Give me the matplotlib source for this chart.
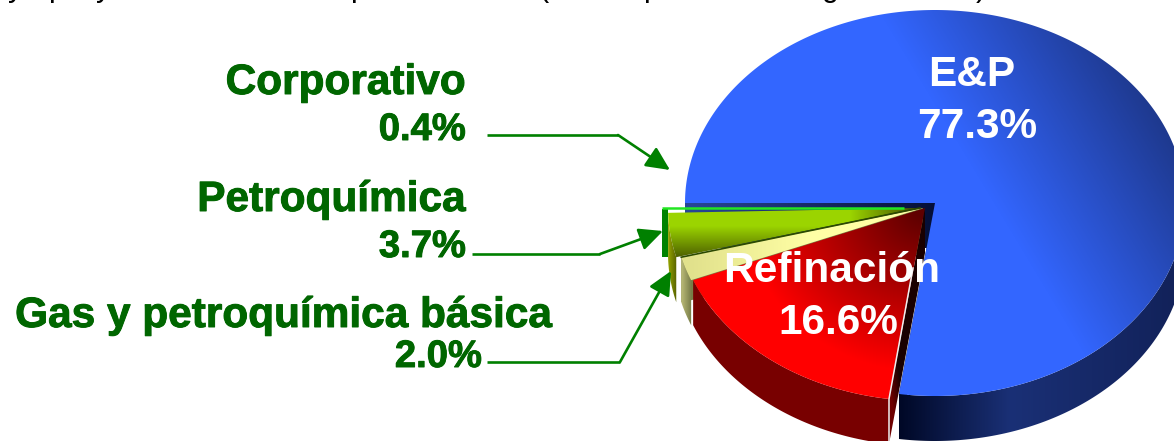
import numpy as np
from matplotlib import pyplot as plt
from matplotlib.patches import Polygon
import matplotlib.patheffects as pe

plt.rcParams['font.family'] = ['Liberation Sans', 'DejaVu Sans']

# pie data, percent
sectors = ['Corporativo', 'Petroquímica', 'Gas y petroquímica básica', 'Refinación', 'E&P']
shares = [0.4, 3.7, 2.0, 16.6, 77.3]
share_labels = ['0.4%', '3.7%', '2.0%', '16.6%', '77.3%']
# only the descenders of the line above the chart are left in the picture
cut_chars = ['y', 'p', 'y', 'p', '(', 'p', 'g', ')']

W, H = 1174, 441
RX, RY, DEPTH = 250, 193, 45
START = 180
centers = [(912, 207.5), (918, 208), (923, 208), (925, 208), (935, 203)]

fig = plt.figure(figsize=(W / 100, H / 100), dpi=100)
ax = fig.add_axes([0, 0, 1, 1])
ax.set_axis_off()

gx, gy = np.meshgrid(np.arange(W) + 0.5, np.arange(H) + 0.5)


def arc(c, a0, a1, dy=0):
    t = np.radians(np.linspace(a0, a1, max(int(abs(a1 - a0)) * 2, 8)))
    return np.column_stack([c[0] + RX * np.cos(t), c[1] - RY * np.sin(t) + dy])


def mix(c0, c1, t):
    t = np.clip(t, 0, 1)[..., None]
    return (np.array(c0) * (1 - t) + np.array(c1) * t) / 255


def fill(points, rgb, z):
    # gradient image clipped by the outline of the part
    patch = Polygon(points, closed=True, transform=ax.transData, fc='none', ec='none')
    ax.add_patch(patch)
    im = ax.imshow(rgb, extent=(0, W, H, 0), aspect='auto', zorder=z, interpolation='bilinear')
    im.set_clip_path(patch)


def top(c, a0, a1):
    return np.vstack([[c], arc(c, a0, a1)])


def side(c, a0, a1):
    return np.vstack([arc(c, a0, a1), arc(c, a1, a0, DEPTH)])


def wall(c, a):
    p = arc(c, a, a + 0.01)[0]
    return [c, p, (p[0], p[1] + DEPTH), (c[0], c[1] + DEPTH)]


edges = START + np.cumsum([0] + shares) * 3.6
corp, petro, gas, refi, ep = [(edges[i], edges[i + 1]) for i in range(5)]
cc, cp, cg, cr, ce = centers

# E&P
navy_wall = mix((40, 70, 150), (5, 15, 55), (gx - 690) / 245)
fill(wall(ce, START), navy_wall, 1)
fill(wall(ce, ep[0]), mix((5, 12, 50), (10, 25, 75), (gy - 205) / 230), 1)
blue = mix((51, 102, 255), (28, 52, 130), (gx - 950) / 240 + (130 - gy) / 400)
fill(top(ce, ep[0], ep[1]), blue, 3)
blue_side = np.where((gx < 1010)[..., None], mix((0, 8, 38), (26, 48, 118), (gx - 900) / 110),
                     mix((26, 48, 118), (18, 34, 90), (gx - 1010) / 164))
fill(side(ce, ep[0], 360), blue_side, 2)

# Corporativo
cx0 = cc[0] - RX
fill([(cx0, cc[1] + 1), (cx0 + 6, cc[1] + 1), (cx0 + 6, cc[1] + 49), (cx0, cc[1] + 49)],
     mix((0, 130, 0), (0, 130, 0), gx * 0), 6)
ax.plot([cx0, cc[0] - 8], [cc[1] + 0.8, cc[1] + 0.8], color='#22e622', lw=1.8, zorder=7, solid_capstyle='butt')

# Petroquimica
fill(side(cp, petro[0], petro[1]), mix((150, 165, 0), (85, 95, 0), (gx - 668) / 9), 5)
green = mix((155, 212, 0), (70, 85, 0),
            np.maximum((gy - 226) / 34, (gx - 850) / 65))
fill(top(cp, petro[0], petro[1]), green, 5)

# Gas
fill(side(cg, gas[0], gas[1]), mix((195, 195, 125), (115, 120, 70), (gx - 680) / 12), 5)
fill(wall(cg, gas[0]), mix((120, 125, 70), (120, 125, 70), gx * 0), 4)
beige = mix((225, 225, 140), (255, 255, 165), (gx - 690) / 120)
fill(top(cg, gas[0], gas[1]), beige, 6)
p0 = arc(cg, gas[0], gas[0] + 0.01)[0]
ax.plot([cg[0] - 3, p0[0]], [cg[1], p0[1]], color='#2c4a00', lw=1.2, zorder=7)

# Refinacion
fill(wall(cr, refi[1]), mix((110, 0, 0), (25, 0, 0), (gx - 890) / 12 - (gy - 390) / 70), 6)
fill(side(cr, refi[0], refi[1]), mix((120, 0, 0), (125, 0, 0), gx * 0), 7)
d = np.hypot(gx - cr[0], (gy - cr[1]) * 1.1)
fill(top(cr, refi[0], refi[1]), mix((95, 0, 0), (255, 0, 0), (d - 10) / 170), 8)
p1 = arc(cr, refi[1], refi[1] + 0.01)[0]
ax.plot([cr[0] - 12, p1[0], p1[0]], [cr[1] + 60, p1[1], p1[1] + DEPTH], color='#eeeeee', lw=1.1, zorder=9)

ax.set_xlim(0, W)
ax.set_ylim(H, 0)

# labels
dark_green = '#006600'
heavy = [pe.withStroke(linewidth=0.7, foreground=dark_green)]
for name, val, xr, y1, y2, xr2 in [(sectors[0], share_labels[0], 466, 94, 140, 466),
                                   (sectors[1], share_labels[1], 466, 211, 257, 466),
                                   (sectors[2], share_labels[2], 553, 327, 367, 482)]:
    ax.text(xr, y1, name, color=dark_green, fontsize=30.5, fontweight='bold', ha='right', va='baseline',
            zorder=12, path_effects=heavy)
    ax.text(xr2, y2, val, color=dark_green, fontsize=27.5, fontweight='bold', ha='right', va='baseline',
            zorder=12, path_effects=heavy)

ax.text(972, 86, sectors[4], color='white', fontsize=30.5, fontweight='bold', ha='center', va='baseline', zorder=12)
ax.text(977, 138, share_labels[4], color='white', fontsize=30.5, fontweight='bold', ha='center', va='baseline', zorder=12)
ax.text(832, 282, sectors[3], color='white', fontsize=30.5, fontweight='bold', ha='center', va='baseline', zorder=12)
ax.text(838, 334, share_labels[3], color='white', fontsize=30.5, fontweight='bold', ha='center', va='baseline', zorder=12)

# leader arrows
arrow_green = '#008000'
for (x0, y0), (x1, y1), (x2, y2) in [((487, 135), (618, 135), (670, 170)),
                                     ((472, 254), (600, 254), (663, 231)),
                                     ((487, 362), (620, 362), (671, 271))]:
    ax.plot([x0, x1], [y0, y1], color=arrow_green, lw=1.9, zorder=11, solid_capstyle='butt')
    ax.annotate('', xy=(x2, y2), xytext=(x1, y1), zorder=11,
                arrowprops=dict(arrowstyle='-|>,head_length=0.8,head_width=0.38', color=arrow_green, lw=1.9,
                                mutation_scale=18, shrinkA=0, shrinkB=0))

for ch, x in zip(cut_chars, [16, 57, 104, 359, 543, 652, 830, 981]):
    ax.text(x, -4, ch, color='black', fontsize=22, ha='center', va='baseline', clip_on=True, zorder=12)

fig.savefig('out.png', dpi=100)
